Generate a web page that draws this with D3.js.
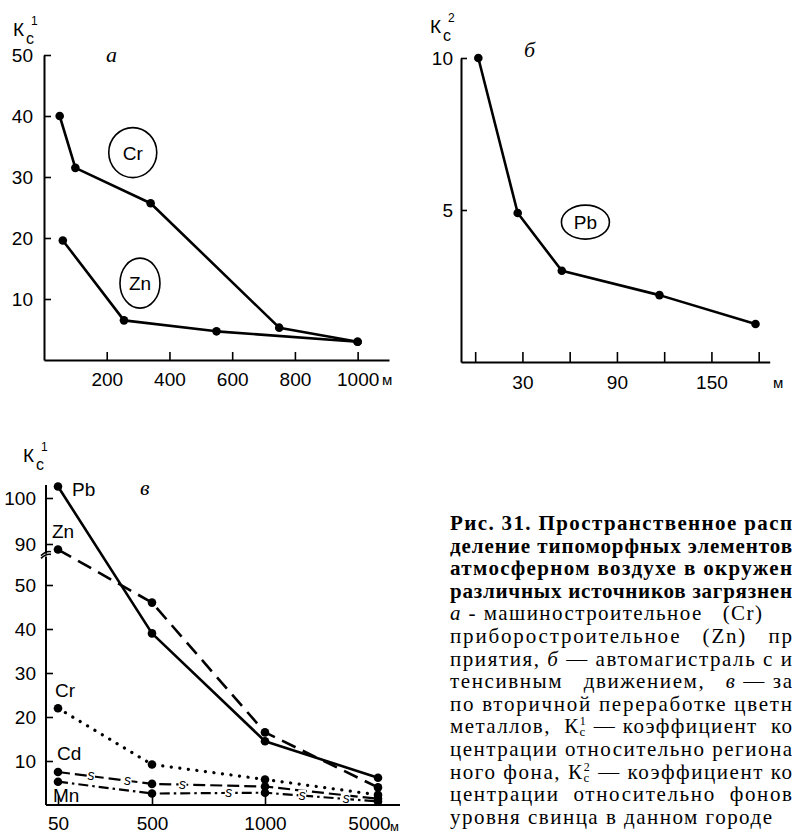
<!DOCTYPE html>
<html><head><meta charset="utf-8">
<script src="https://cdn.jsdelivr.net/npm/d3@7"></script>
<style>body{margin:0;background:#fff}svg{display:block}</style>
</head><body><svg id="c" width="792" height="833"></svg>
<script>
// ---------- Panel а ----------
const aCrX = [50, 100, 340, 750, 1000];
const aCrY = [40, 31.5, 25.7, 5.3, 3];
const aZnX = [60, 255, 550, 1000];
const aZnY = [19.6, 6.5, 4.7, 3];
const aXTicks = [200, 400, 600, 800, 1000];
const aYTicks = [10, 20, 30, 40, 50];
// ---------- Panel б ----------
const bX = [2, 27, 55, 117, 178];
const bPb = [10, 4.9, 3.0, 2.2, 1.25];
const bXTicks = [0, 30, 60, 90, 120, 150, 180];
const bXLabels = ["", "30", "", "90", "", "150", ""];
const bYTicks = [5, 10];
// ---------- Panel в ----------
const cCats = ["50", "500", "1000", "5000"];
const cPb = [102.5, 39, 14.5, 6.2];
const cZn = [88.8, 46, 16.5, 4];
const cCr = [22, 9.2, 5.8, 2.3];
const cCd = [7.5, 4.8, 4.2, 1.4];
const cMn = [5.3, 2.6, 2.8, 0.8];
const cYTicksLow = [10, 20, 30, 40, 50];
const cYTicksUp = [90, 100];
// ---------- Caption (text visible in the reference, cut at the page edge) ----------
const caption = [
  [["Рис. 31. Пространственное расп", "b"]],
  [["деление типоморфных элементов", "b"]],
  [["атмосферном воздухе в окружен", "b"]],
  [["различных источников загрязнен", "b"]],
  [["а", "i"], [" - машиностроительное   (Cr)", ""]],
  [["приборостроительное   (Zn)   пр", ""]],
  [["приятия, ", ""], ["б", "i"], [" — автомагистраль с и", ""]],
  [["тенсивным   движением,   ", ""], ["в", "i"], [" — за", ""]],
  [["по вторичной переработке цветн", ""]],
  [["металлов,  К", ""], ["c", "sub"], ["1", "sup"], [" — коэффициент  ко", "after"]],
  [["центрации относительно региона", ""]],
  [["ного фона, К", ""], ["c", "sub"], ["2", "sup"], [" — коэффициент ко", "after"]],
  [["центрации  относительно  фонов", ""]],
  [["уровня свинца в данном городе", ""]]
];
const captionWidths = [342, 342, 342, 342, 312, 342, 342, 342, 342, 342, 342, 342, 342, 322];

const svg = d3.select("#c");
svg.append("rect").attr("width", 792).attr("height", 833).attr("fill", "#fff");
const SANS = "'Liberation Sans', Arial, sans-serif";
const SERIF = "'Liberation Serif', 'Times New Roman', serif";

function styleAxis(g) {
  g.selectAll("path.domain").attr("stroke", "#000").attr("stroke-width", 2);
  g.selectAll(".tick line").attr("stroke", "#000").attr("stroke-width", 1.6);
  g.selectAll(".tick text").attr("fill", "#000").attr("font-family", SANS).attr("font-size", 19);
}
function kLabel(x, y, sup) {
  svg.append("text").attr("x", x).attr("y", y).attr("font-family", SANS)
    .attr("font-size", 19).attr("fill", "#000").text("К");
  svg.append("text").attr("x", x + 13).attr("y", y + 8).attr("font-family", SANS)
    .attr("font-size", 16).attr("fill", "#000").text("c");
  svg.append("text").attr("x", x + 18).attr("y", y - 11).attr("font-family", SANS)
    .attr("font-size", 12).attr("fill", "#000").text(sup);
}
function panelLetter(x, y, s) {
  svg.append("text").attr("x", x).attr("y", y).attr("font-family", SERIF)
    .attr("font-style", "italic").attr("font-size", 22).attr("fill", "#000").text(s);
}
function seriesLine(g, pts, dash, width) {
  g.append("path").datum(pts)
    .attr("d", d3.line().x(d => d[0]).y(d => d[1]))
    .attr("fill", "none").attr("stroke", "#000").attr("stroke-width", width || 2.6)
    .attr("stroke-linejoin", "round")
    .attr("stroke-linecap", dash && dash.startsWith("0.1") ? "round" : "butt")
    .attr("stroke-dasharray", dash || null);
  g.selectAll(null).data(pts).enter().append("circle")
    .attr("cx", d => d[0]).attr("cy", d => d[1]).attr("r", 4.3).attr("fill", "#000");
}
function circledLabel(g, cx, cy, rx, ry, s) {
  g.append("ellipse").attr("cx", cx).attr("cy", cy).attr("rx", rx).attr("ry", ry)
    .attr("fill", "none").attr("stroke", "#000").attr("stroke-width", 1.6);
  g.append("text").attr("x", cx).attr("y", cy + 7).attr("text-anchor", "middle")
    .attr("font-family", SANS).attr("font-size", 19).text(s);
}

// ===== Panel а =====
const xA = d3.scaleLinear().domain([0, 1100]).range([44, 389]);
const yA = d3.scaleLinear().domain([0, 50]).range([360, 55]);
const gA = svg.append("g");
gA.append("g").attr("transform", `translate(0,${yA(0)})`)
  .call(d3.axisBottom(xA).tickValues(aXTicks).tickFormat(d3.format("d"))
    .tickSize(-8).tickSizeOuter(0).tickPadding(13))
  .call(styleAxis);
gA.append("g").attr("transform", `translate(${xA(0)},0)`)
  .call(d3.axisLeft(yA).tickValues(aYTicks).tickSize(-7).tickSizeOuter(0).tickPadding(11))
  .call(styleAxis);
gA.append("text").attr("x", 382).attr("y", yA(0) + 25).attr("font-family", SANS)
  .attr("font-size", 15).text("м");
seriesLine(gA, aCrX.map((v, i) => [xA(v), yA(aCrY[i])]));
seriesLine(gA, aZnX.map((v, i) => [xA(v), yA(aZnY[i])]));
circledLabel(gA, xA(283), yA(34), 24, 25, "Cr");
circledLabel(gA, xA(306), yA(12.6), 20, 25, "Zn");
kLabel(13, 36, "1");
panelLetter(106, 62, "а");

// ===== Panel б =====
const xB = d3.scaleLinear().domain([-9, 187]).range([461, 769.7]);
const yB = d3.scaleLinear().domain([0, 10]).range([362, 58]);
const gB = svg.append("g");
gB.append("g").attr("transform", `translate(0,${yB(0)})`)
  .call(d3.axisBottom(xB).tickValues(bXTicks).tickFormat((d, i) => bXLabels[i])
    .tickSize(-10).tickSizeOuter(0).tickPadding(14))
  .call(styleAxis);
gB.append("g").attr("transform", `translate(${xB(-9)},0)`)
  .call(d3.axisLeft(yB).tickValues(bYTicks).tickSize(-6).tickSizeOuter(0).tickPadding(8))
  .call(styleAxis);
gB.append("text").attr("x", 773).attr("y", yB(0) + 26).attr("font-family", SANS)
  .attr("font-size", 15).text("м");
seriesLine(gB, bX.map((v, i) => [xB(v), yB(bPb[i])]));
circledLabel(gB, xB(70), yB(4.6), 24, 17, "Pb");
kLabel(430, 33, "2");
panelLetter(524, 57, "б");

// ===== Panel в =====
const xC = d3.scaleLinear().domain([0, 1, 2, 3]).range([58, 152, 265, 378]);
const yLow = d3.scaleLinear().domain([0, 50]).range([805, 585]);
const yUp = d3.scaleLinear().domain([90, 100]).range([544, 498]);
const yC = v => v >= 70 ? yUp(v) : yLow(v);
const gC = svg.append("g");
const xAxC = gC.append("g").attr("transform", `translate(0,${yLow(0)})`)
  .call(d3.axisBottom(xC).tickValues([0, 1, 2, 3]).tickFormat(i => cCats[i])
    .tickSize(-10).tickSizeOuter(0).tickPadding(12))
  .call(styleAxis);
xAxC.select("path.domain").remove();
xAxC.selectAll(".tick text").attr("font-size", 19).attr("dx", (d, i) => i === 3 ? -9 : 0);
gC.append("line").attr("x1", 46).attr("x2", 400).attr("y1", yLow(0)).attr("y2", yLow(0))
  .attr("stroke", "#000").attr("stroke-width", 2);
gC.append("text").attr("x", 390).attr("y", yLow(0) + 26).attr("font-family", SANS)
  .attr("font-size", 13).text("м");
const yAxL = gC.append("g").attr("transform", "translate(46,0)")
  .call(d3.axisLeft(yLow).tickValues(cYTicksLow).tickSize(-7).tickSizeOuter(0).tickPadding(10))
  .call(styleAxis);
const yAxU = gC.append("g").attr("transform", "translate(46,0)")
  .call(d3.axisLeft(yUp).tickValues(cYTicksUp).tickSize(-7).tickSizeOuter(0).tickPadding(10))
  .call(styleAxis);
yAxL.select("path.domain").remove();
yAxU.select("path.domain").remove();
gC.append("line").attr("x1", 46).attr("x2", 46).attr("y1", yLow(0)).attr("y2", yLow(56.5))
  .attr("stroke", "#000").attr("stroke-width", 2);
gC.append("line").attr("x1", 46).attr("x2", 46).attr("y1", yUp(87.9)).attr("y2", yUp(102.8))
  .attr("stroke", "#000").attr("stroke-width", 2);
// axis break marks
[yUp(87.9), yLow(56.5)].forEach(yy => {
  gC.append("path").attr("d", `M41,${yy + 2} Q46,${yy - 3} 51,${yy - 2}`)
    .attr("fill", "none").attr("stroke", "#000").attr("stroke-width", 1.6);
});
const ptsC = arr => arr.map((v, i) => [xC(i), yC(v)]);
seriesLine(gC, ptsC(cPb));
seriesLine(gC, ptsC(cZn), "15,8");
seriesLine(gC, ptsC(cCr), "0.1,8.5", 3.2);
seriesLine(gC, ptsC(cCd), "12,5", 2.2);
seriesLine(gC, ptsC(cMn), "10,4,2.5,4", 2.2);
// "s" symbols inserted in the Cd / Mn lines
const sMarks = [[cCd, 0, 0.35], [cCd, 0, 0.74], [cCd, 1, 0.27], [cMn, 1, 0.68], [cMn, 2, 0.33], [cMn, 2, 0.72]];
sMarks.forEach(([arr, i, t]) => {
  const xx = xC(i + t), yy = yC(arr[i] + (arr[i + 1] - arr[i]) * t);
  gC.append("rect").attr("x", xx - 4).attr("y", yy - 6).attr("width", 8).attr("height", 9).attr("fill", "#fff");
  gC.append("text").attr("x", xx).attr("y", yy + 4).attr("text-anchor", "middle")
    .attr("font-family", SANS).attr("font-style", "italic").attr("font-size", 14).text("s");
});
const cLab = [["Pb", 72, 496], ["Zn", 52, 538], ["Cr", 55, 697], ["Cd", 57, 760], ["Mn", 53, 802]];
cLab.forEach(([s, x, y]) => gC.append("text").attr("x", x).attr("y", y)
  .attr("font-family", SANS).attr("font-size", 19).text(s));
kLabel(23, 462, "1");
panelLetter(140, 495, "в");

// ===== Caption =====
const capG = svg.append("g").attr("font-family", SERIF).attr("fill", "#000");
caption.forEach((segs, li) => {
  const t = capG.append("text").attr("x", 450).attr("y", 530 + li * 22.6)
    .attr("font-size", 21).attr("xml:space", "preserve").style("white-space", "pre")
    .attr("textLength", captionWidths[li]).attr("lengthAdjust", "spacing");
  if (segs[0][1] === "b") t.attr("font-weight", "bold");
  segs.forEach(([s, st]) => {
    const ts = t.append("tspan").text(s);
    if (st === "i") ts.attr("font-style", "italic");
    if (st === "sub") ts.attr("font-size", 13).attr("dy", 3);
    if (st === "sup") ts.attr("font-size", 12).attr("dx", -7).attr("dy", -11);
    if (st === "after") ts.attr("dy", 8);
  });
});
</script></body></html>
